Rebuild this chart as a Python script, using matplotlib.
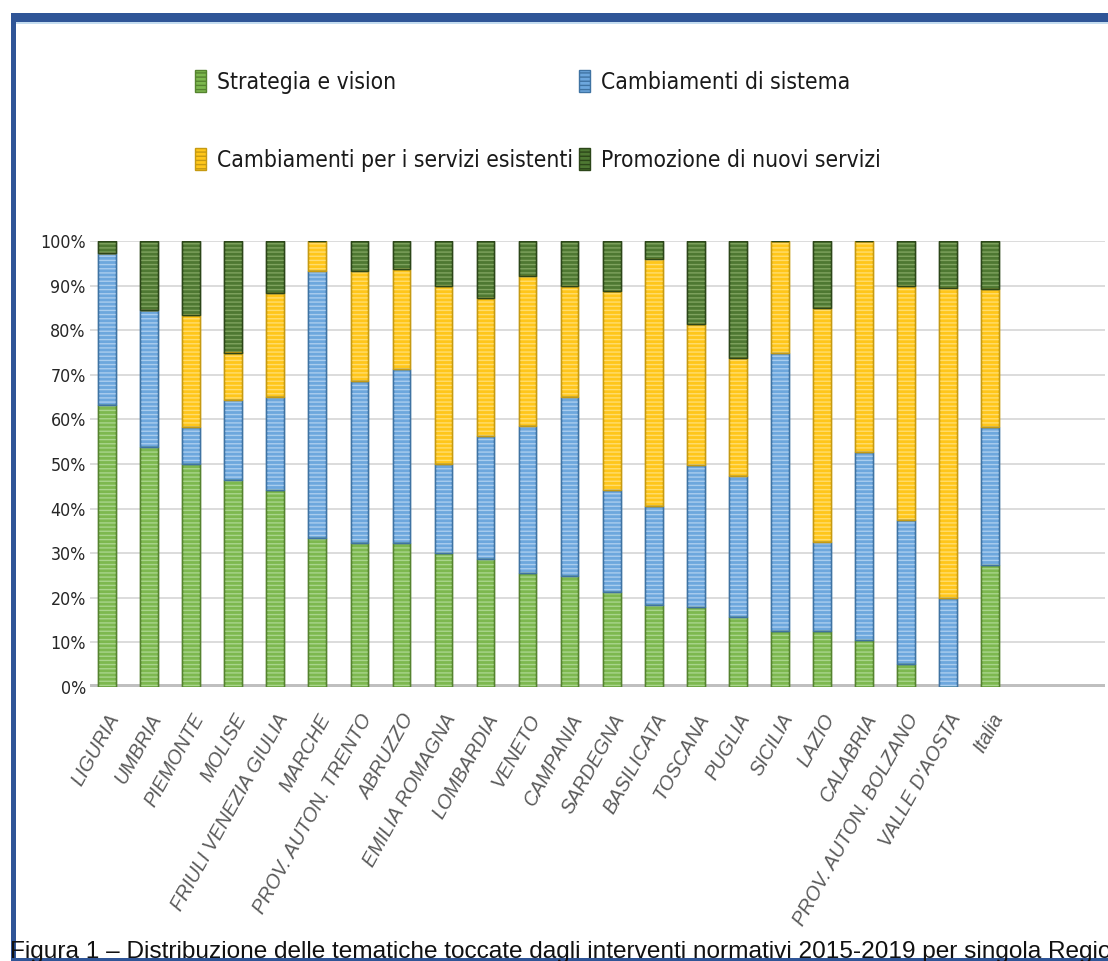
import matplotlib
matplotlib.use("Agg")
import matplotlib.pyplot as plt
from matplotlib.patches import Patch, Rectangle

# Dati: quota (%) delle tematiche per regione
regioni = ['LIGURIA', 'UMBRIA', 'PIEMONTE', 'MOLISE', 'FRIULI VENEZIA GIULIA', 'MARCHE',
           'PROV. AUTON. TRENTO', 'ABRUZZO', 'EMILIA ROMAGNA', 'LOMBARDIA', 'VENETO',
           'CAMPANIA', 'SARDEGNA', 'BASILICATA', 'TOSCANA', 'PUGLIA', 'SICILIA', 'LAZIO',
           'CALABRIA', 'PROV. AUTON. BOLZANO', "VALLE D'AOSTA", 'Italia']
strategia = [63.2, 53.8, 50.0, 46.4, 44.2, 33.3, 32.3, 32.3, 30.0, 28.6, 25.5,
             25.0, 21.4, 18.4, 18.0, 15.8, 12.5, 12.5, 10.5, 5.1, 0.0, 27.4]
sistema = [34.2, 30.8, 8.3, 17.9, 20.9, 60.0, 36.3, 39.1, 20.0, 27.6, 33.0,
           40.0, 22.8, 22.2, 31.8, 31.6, 62.5, 20.0, 42.1, 32.4, 20.0, 30.9]
esistenti = [0.0, 0.0, 25.0, 10.7, 23.3, 6.7, 24.7, 22.3, 40.0, 31.0, 33.7,
             25.0, 44.6, 55.3, 31.5, 26.3, 25.0, 52.5, 47.4, 52.5, 69.4, 30.9]
nuovi = [2.6, 15.4, 16.7, 25.0, 11.6, 0.0, 6.7, 6.3, 10.0, 12.8, 7.8,
         10.0, 11.2, 4.1, 18.7, 26.3, 0.0, 15.0, 0.0, 10.0, 10.6, 10.8]

serie = ['Strategia e vision', 'Cambiamenti di sistema',
         'Cambiamenti per i servizi esistenti', 'Promozione di nuovi servizi']
# (riempimento, righe chiare, bordo)
colori = [('#7DB84F', '#A9D58C', '#55832F'),
          ('#6DA7DD', '#AACDEE', '#3F73A3'),
          ('#FFC61A', '#FFDD6E', '#C69A12'),
          ('#4E7832', '#7FA35F', '#2C4619')]

fig = plt.figure(figsize=(11.08, 9.61), dpi=100)
ax = fig.add_axes([90 / 1108, 274 / 961, 1015 / 1108, 446 / 961])

x = list(range(len(regioni)))
base = [0.0] * len(regioni)
for vals, (fc, hc, ec) in zip([strategia, sistema, esistenti, nuovi], colori):
    ax.bar(x, vals, 0.42, bottom=base, color=fc, edgecolor=ec, linewidth=1.0, zorder=3)
    ax.bar(x, vals, 0.42, bottom=base, facecolor='none', edgecolor=hc,
           hatch='----', linewidth=0, zorder=4)
    ax.bar(x, vals, 0.42, bottom=base, facecolor='none', edgecolor=ec,
           linewidth=1.0, zorder=5)
    base = [b + v for b, v in zip(base, vals)]

ax.set_xlim(-0.404, 23.73)
ax.set_ylim(0, 100)
ax.set_yticks(range(0, 101, 10))
ax.set_yticklabels([f'{v}%' for v in range(0, 101, 10)], family='DejaVu Sans',
                   stretch='condensed', fontsize=12.8, color='#262626')
ax.grid(axis='y', color='#D9D9D9', linewidth=1.3, zorder=0)
ax.axhline(0, color='#BFBFBF', linewidth=5, zorder=2)
for s in ax.spines.values():
    s.set_visible(False)
ax.tick_params(length=0, axis='y', pad=3)
ax.tick_params(length=0, axis='x', pad=17)
ax.set_xticks(x)
ax.set_xticklabels(regioni, rotation=61, ha='right', va='top', rotation_mode='anchor',
                   fontsize=14.2, style='italic', color='#5A5A5A',
                   family=['Liberation Sans', 'DejaVu Sans'])

# legenda disposta per righe, come nell'originale
ordine = [0, 2, 1, 3]
handles = [Patch(facecolor=colori[i][0], edgecolor=colori[i][2], hatch='----') for i in ordine]
leg = fig.legend(handles, [serie[i] for i in ordine], ncol=2, frameon=False,
                 loc='upper left', bbox_to_anchor=(184 / 1108, 1 - 59 / 961),
                 borderpad=0, handlelength=0.47, handleheight=1.05, handletextpad=0.5,
                 columnspacing=0.25, labelspacing=2.4,
                 prop={'family': 'DejaVu Sans', 'stretch': 'condensed', 'size': 16.4})
for t in leg.get_texts():
    t.set_color('#1A1A1A')

# cornice blu
fig.patches.append(Rectangle((11 / 1108, 1 - 22 / 961), 1, 9 / 961, transform=fig.transFigure,
                             facecolor='#2F5597', edgecolor='none', zorder=10))
fig.patches.append(Rectangle((16 / 1108, 1 - 24 / 961), 1, 2 / 961, transform=fig.transFigure,
                             facecolor='#C5DDF0', edgecolor='none', zorder=10))
fig.patches.append(Rectangle((11 / 1108, 0), 5 / 1108, 1 - 13 / 961, transform=fig.transFigure,
                             facecolor='#2F5597', edgecolor='none', zorder=10))
fig.patches.append(Rectangle((11 / 1108, 0), 1, 3 / 961, transform=fig.transFigure,
                             facecolor='#2F5597', edgecolor='none', zorder=10))

fig.text(10 / 1108, 3 / 961,
         'Figura 1 – Distribuzione delle tematiche toccate dagli interventi normativi '
         '2015-2019 per singola Regione',
         family=['Liberation Sans', 'DejaVu Sans'], fontsize=17.6, color='#111111',
         va='baseline', ha='left', zorder=11)

fig.savefig('out.png', dpi=100)
